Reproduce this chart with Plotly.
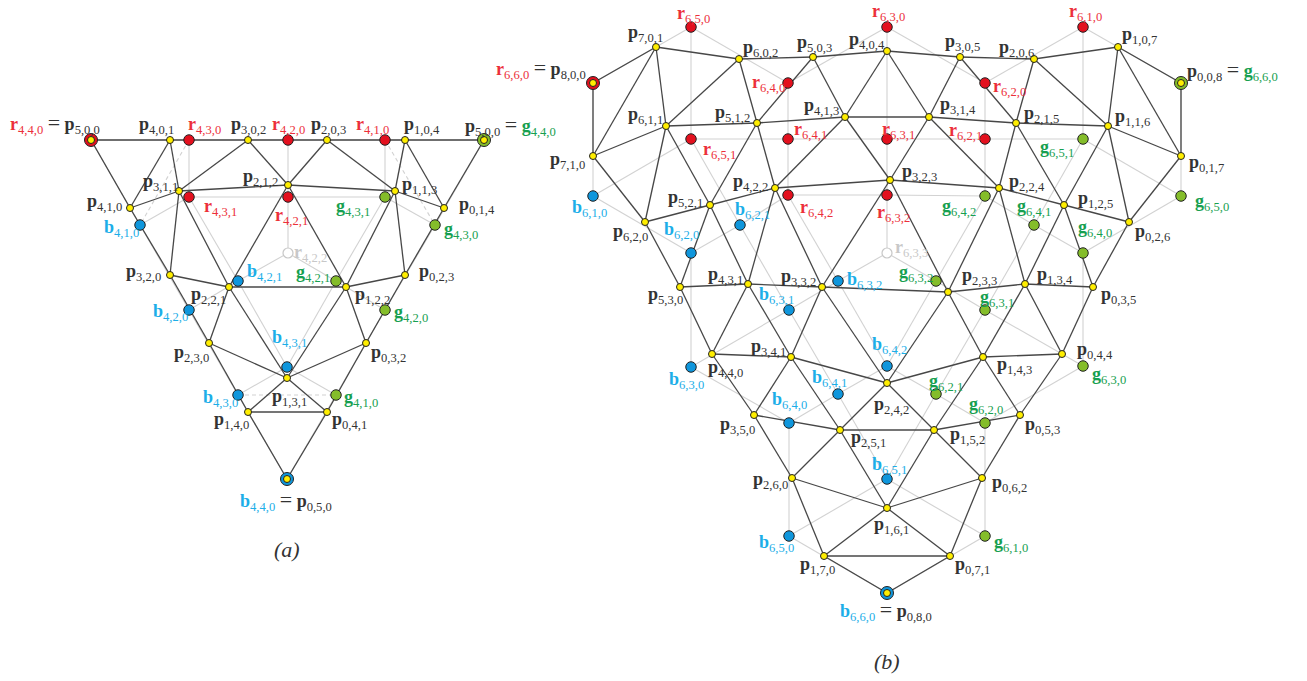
import plotly.graph_objects as go

# ===================== data: sub-figure (a) =====================
A_N = 5            # mesh degree, points p_{i,j,k}, i+j+k = 5, rows j = 0..5
A_MESH_X = [[91, 170, 248, 327, 405, 484],
            [130, 179, 288, 395, 444],
            [170, 229, 346, 405],
            [209, 287, 366],
            [248, 327],
            [287]]
A_MESH_Y = [[140, 140, 140, 140, 140, 140],
            [208, 191, 185, 191, 208],
            [275, 287, 287, 275],
            [343, 378, 343],
            [412, 412],
            [479]]
A_CN = 4           # control net degree (r, g, b nets)
A_AB = [(4, 0), (3, 0), (2, 0), (1, 0), (3, 1), (2, 1)]
A_RED_X = [91, 189, 288, 385, 189, 288]
A_RED_Y = [140, 140, 140, 140, 197, 197]
A_GREEN_X = [484, 435, 385, 336, 385, 336]
A_GREEN_Y = [140, 225, 310, 395, 197, 281]
A_BLUE_X = [287, 238, 189, 140, 287, 238]
A_BLUE_Y = [479, 395, 310, 225, 367, 281]
A_CENTER = (288, 253)
A_DASHED = [(("r", 3, 0), ("b", 1, 0)), (("r", 1, 0), ("g", 3, 0)), (("b", 3, 0), ("g", 1, 0))]

# ===================== data: sub-figure (b) =====================
B_N = 8
B_MESH_X = [[593, 656, 739, 813, 887, 960, 1034, 1118, 1181],
            [593, 666, 757, 845, 929, 1016, 1108, 1181],
            [645, 710, 775, 890, 999, 1064, 1129],
            [680, 748, 822, 948, 1025, 1093],
            [712, 791, 887, 983, 1062],
            [754, 840, 934, 1020],
            [792, 887, 982],
            [824, 950],
            [887]]
B_MESH_Y = [[83, 47, 59, 57, 51, 57, 59, 47, 83],
            [156, 126, 123, 117, 117, 123, 126, 156],
            [222, 205, 188, 180, 188, 205, 222],
            [287, 284, 287, 292, 284, 287],
            [354, 357, 383, 357, 354],
            [415, 430, 430, 415],
            [478, 508, 478],
            [556, 556],
            [593]]
B_CN = 6
B_AB = [(6, 0), (5, 0), (4, 0), (3, 0), (2, 0), (1, 0), (5, 1), (4, 1), (3, 1), (2, 1), (4, 2), (3, 2)]
B_RED_X = [593, 691, 788, 887, 985, 1083, 691, 788, 887, 985, 788, 887]
B_RED_Y = [83, 27, 83, 27, 83, 27, 139, 139, 139, 139, 195, 195]
B_GREEN_X = [1181, 1181, 1083, 1083, 985, 985, 1083, 1034, 985, 936, 985, 936]
B_GREEN_Y = [83, 196, 253, 366, 423, 536, 139, 225, 310, 394, 196, 281]
B_BLUE_X = [887, 789, 789, 691, 691, 593, 887, 838, 789, 740, 887, 838]
B_BLUE_Y = [593, 536, 423, 367, 253, 196, 479, 394, 310, 225, 366, 281]
B_CENTER = (887, 253)
B_DASHED = []

# ===================== label layout (left edge x, middle y) =====================
A_LABELS = {
    "p401": (137, 125), "r430": (186, 125), "p302": (229, 125), "r420": (270, 125),
    "p203": (309, 125), "r410": (354, 125), "p104": (402, 125),
    "p311": (141, 182), "p410": (85, 202), "b410": (102, 228), "r431": (202, 207),
    "p320": (124, 272), "p221": (189, 295), "b421": (245, 272), "p212": (241, 177),
    "r421": (273, 216), "p113": (400, 185), "g431": (334, 207), "p014": (457, 205),
    "g430": (442, 230), "r422": (292, 253), "g421": (294, 273), "p023": (417, 272),
    "p122": (353, 295), "b420": (151, 312), "g420": (392, 313), "p230": (172, 353),
    "p032": (369, 353), "b431": (270, 338), "p131": (270, 397), "b430": (201, 398),
    "g410": (342, 398), "p140": (212, 420), "p041": (330, 420),
}
A_CORNERS = [("r", "440", "p", "500", 8, 123, True),
             ("g", "440", "p", "500", 463, 125, False),
             ("b", "440", "p", "050", 238, 500, True)]
A_CAPTION = ("(a)", 287, 549)

B_LABELS = {
    "r650": (675, 14), "p701": (626, 33), "p602": (741, 48), "p503": (795, 43),
    "r630": (870, 12), "p404": (847, 40), "p305": (943, 42), "p206": (997, 48),
    "r610": (1067, 12), "p107": (1120, 35), "r640": (750, 83), "r620": (991, 87),
    "p611": (626, 115), "p512": (713, 113), "p413": (802, 106), "p314": (938, 105),
    "p215": (1022, 114), "p116": (1113, 117), "r651": (701, 150), "r641": (792, 130),
    "r631": (880, 130), "r621": (947, 131), "g651": (1038, 148), "p710": (548, 160),
    "p017": (1187, 163), "p422": (731, 182), "p323": (900, 172), "p224": (1007, 182),
    "p521": (666, 198), "b610": (570, 208), "b621": (733, 210), "r642": (798, 208),
    "r632": (875, 213), "g642": (940, 207), "g641": (1015, 207), "p125": (1076, 199),
    "g650": (1193, 202), "p620": (611, 232), "b620": (662, 230), "g640": (1076, 228),
    "p026": (1133, 232), "r633": (893, 248), "p431": (706, 275), "p332": (779, 277),
    "b632": (845, 280), "g632": (897, 273), "p233": (960, 276), "p134": (1035, 275),
    "p530": (646, 295), "b631": (757, 295), "g631": (978, 298), "p035": (1099, 295),
    "b642": (870, 345), "p341": (749, 347), "p044": (1075, 350), "p143": (995, 365),
    "p440": (706, 368), "g630": (1090, 375), "b641": (810, 378), "g621": (927, 382),
    "b630": (667, 380), "b640": (770, 400), "p242": (872, 405), "g620": (967, 405),
    "p350": (718, 425), "p053": (1023, 425), "p152": (948, 435), "p251": (849, 438),
    "b651": (870, 465), "p260": (751, 480), "p062": (990, 483), "p161": (872, 525),
    "b650": (757, 543), "g610": (992, 543), "p170": (798, 565), "p071": (953, 565),
}
B_CORNERS = [("r", "660", "p", "800", 494, 68, True),
             ("g", "660", "p", "008", 1185, 70, False),
             ("b", "660", "p", "080", 838, 610, True)]
B_CAPTION = ("(b)", 887, 661)

# ===================== styles =====================
FONT = "Liberation Serif"
FS = 18
TXT = {"p": "#333333", "r": "#ec2f3a", "g": "#17a050", "b": "#1caee8"}
FILL = {"r": "#e3101e", "g": "#84bd2a", "b": "#0f96dc"}
YELLOW = "#ffee00"
OUTLINE = "#222222"
DARK = "#474747"
GREY = "#d2d2d2"
NEXT = {"r": "g", "g": "b", "b": "r"}
EQ = '&nbsp;<span style="font-size:22px">=</span>&nbsp;'


def sub(letter, idx, color):
    return '<span style="color:%s"><b>%s</b><sub>%s</sub></span>' % (color, letter, ",".join(idx))


fig = go.Figure()
annotations = []


def build(n, mx, my, cn, ab, cols, center, dashed, labels, corners, caption):
    owned = {c: {ab[i]: (cols[c][0][i], cols[c][1][i]) for i in range(len(ab))} for c in "rgb"}

    def cpos(c, a, b):
        if 2 * a == cn and 2 * b == cn:
            return center
        if b < a:
            return owned[c][(a, b)]
        return cpos(NEXT[c], cn - a, a)

    # grey control nets
    gx, gy = [], []
    for c in "rgb":
        for a in range(cn + 1):
            for b in range(min(a, cn - a) + 1):
                p0 = cpos(c, a, b)
                if b + 1 <= min(a, cn - a):
                    p1 = cpos(c, a, b + 1)
                    gx += [p0[0], p1[0], None]; gy += [p0[1], p1[1], None]
                if a >= 1 and b <= min(a - 1, cn - a + 1):
                    p1 = cpos(c, a - 1, b)
                    gx += [p0[0], p1[0], None]; gy += [p0[1], p1[1], None]
    fig.add_trace(go.Scatter(x=gx, y=gy, mode="lines", line=dict(color=GREY, width=1.1),
                             hoverinfo="skip", showlegend=False))
    dx, dy = [], []
    for s, e in dashed:
        p0 = cpos(*s); p1 = cpos(*e)
        dx += [p0[0], p1[0], None]; dy += [p0[1], p1[1], None]
    if dx:
        fig.add_trace(go.Scatter(x=dx, y=dy, mode="lines",
                                 line=dict(color=GREY, width=1.1, dash="4px,3px"),
                                 hoverinfo="skip", showlegend=False))
    # dark mesh (full triangular grid)
    lx, ly = [], []
    for j in range(n + 1):
        for m in range(n - j + 1):
            x0, y0 = mx[j][m], my[j][m]
            nb = []
            if m + 1 <= n - j:
                nb.append((j, m + 1))
            if j + 1 <= n and m <= n - j - 1:
                nb.append((j + 1, m))
            if j + 1 <= n and m >= 1:
                nb.append((j + 1, m - 1))
            for (jj, mm) in nb:
                lx += [x0, mx[jj][mm], None]; ly += [y0, my[jj][mm], None]
    fig.add_trace(go.Scatter(x=lx, y=ly, mode="lines", line=dict(color=DARK, width=1.3),
                             hoverinfo="skip", showlegend=False))
    # hollow centre
    fig.add_trace(go.Scatter(x=[center[0]], y=[center[1]], mode="markers",
                             marker=dict(size=10, color="white", line=dict(color="#c8c8c8", width=1.2)),
                             hoverinfo="skip", showlegend=False))
    # coloured control points
    for c in "rgb":
        xs, ys, ss = [], [], []
        for i, (a, b) in enumerate(ab):
            xs.append(cols[c][0][i]); ys.append(cols[c][1][i])
            ss.append(13 if (a, b) == (cn, 0) else 10.5)
        fig.add_trace(go.Scatter(x=xs, y=ys, mode="markers",
                                 marker=dict(size=ss, color=FILL[c], opacity=1,
                                             line=dict(color=OUTLINE, width=1)),
                                 hoverinfo="skip", showlegend=False))
    # yellow mesh points
    px = [v for row in mx for v in row]
    py = [v for row in my for v in row]
    fig.add_trace(go.Scatter(x=px, y=py, mode="markers",
                             marker=dict(size=7, color=YELLOW, opacity=1, line=dict(color=OUTLINE, width=1)),
                             hoverinfo="skip", showlegend=False))
    # labels
    centre_key = "%d%d" % (cn // 2, cn // 2)
    for key, (x, y) in labels.items():
        letter = key[0]
        idx = list(key[1:])
        if letter != "p" and key[2:] == centre_key:
            txt = sub(letter, idx, "#c8c8c8")
        else:
            txt = sub(letter, idx, TXT[letter])
        annotations.append(dict(x=x, y=y, xref="x", yref="y", text=txt, showarrow=False,
                                xanchor="left", yanchor="middle",
                                font=dict(family=FONT, size=FS, color=TXT["p"])))
    for (cl, cidx, pl, pidx, x, y, color_first) in corners:
        ct = sub(cl, list(cidx), TXT[cl])
        pt = sub(pl, list(pidx), TXT["p"])
        txt = (ct + EQ + pt) if color_first else (pt + EQ + ct)
        annotations.append(dict(x=x, y=y, xref="x", yref="y", text=txt, showarrow=False,
                                xanchor="left", yanchor="middle",
                                font=dict(family=FONT, size=FS, color=TXT["p"])))
    annotations.append(dict(x=caption[1], y=caption[2], xref="x", yref="y",
                            text="<i>%s</i>" % caption[0], showarrow=False,
                            xanchor="center", yanchor="middle",
                            font=dict(family=FONT, size=22, color="#333333")))


build(A_N, A_MESH_X, A_MESH_Y, A_CN, A_AB,
      {"r": (A_RED_X, A_RED_Y), "g": (A_GREEN_X, A_GREEN_Y), "b": (A_BLUE_X, A_BLUE_Y)},
      A_CENTER, A_DASHED, A_LABELS, A_CORNERS, A_CAPTION)
build(B_N, B_MESH_X, B_MESH_Y, B_CN, B_AB,
      {"r": (B_RED_X, B_RED_Y), "g": (B_GREEN_X, B_GREEN_Y), "b": (B_BLUE_X, B_BLUE_Y)},
      B_CENTER, B_DASHED, B_LABELS, B_CORNERS, B_CAPTION)

fig.update_layout(
    width=1307, height=681, autosize=False,
    margin=dict(l=0, r=0, t=0, b=0, pad=0),
    paper_bgcolor="white", plot_bgcolor="white",
    xaxis=dict(range=[0, 1307], visible=False, fixedrange=True),
    yaxis=dict(range=[681, 0], visible=False, fixedrange=True),
    annotations=annotations,
    showlegend=False,
)

fig.write_html("out.html", include_plotlyjs=True, config={"displayModeBar": False},
               post_script="document.body.style.margin='0';document.body.style.overflow='hidden';")
